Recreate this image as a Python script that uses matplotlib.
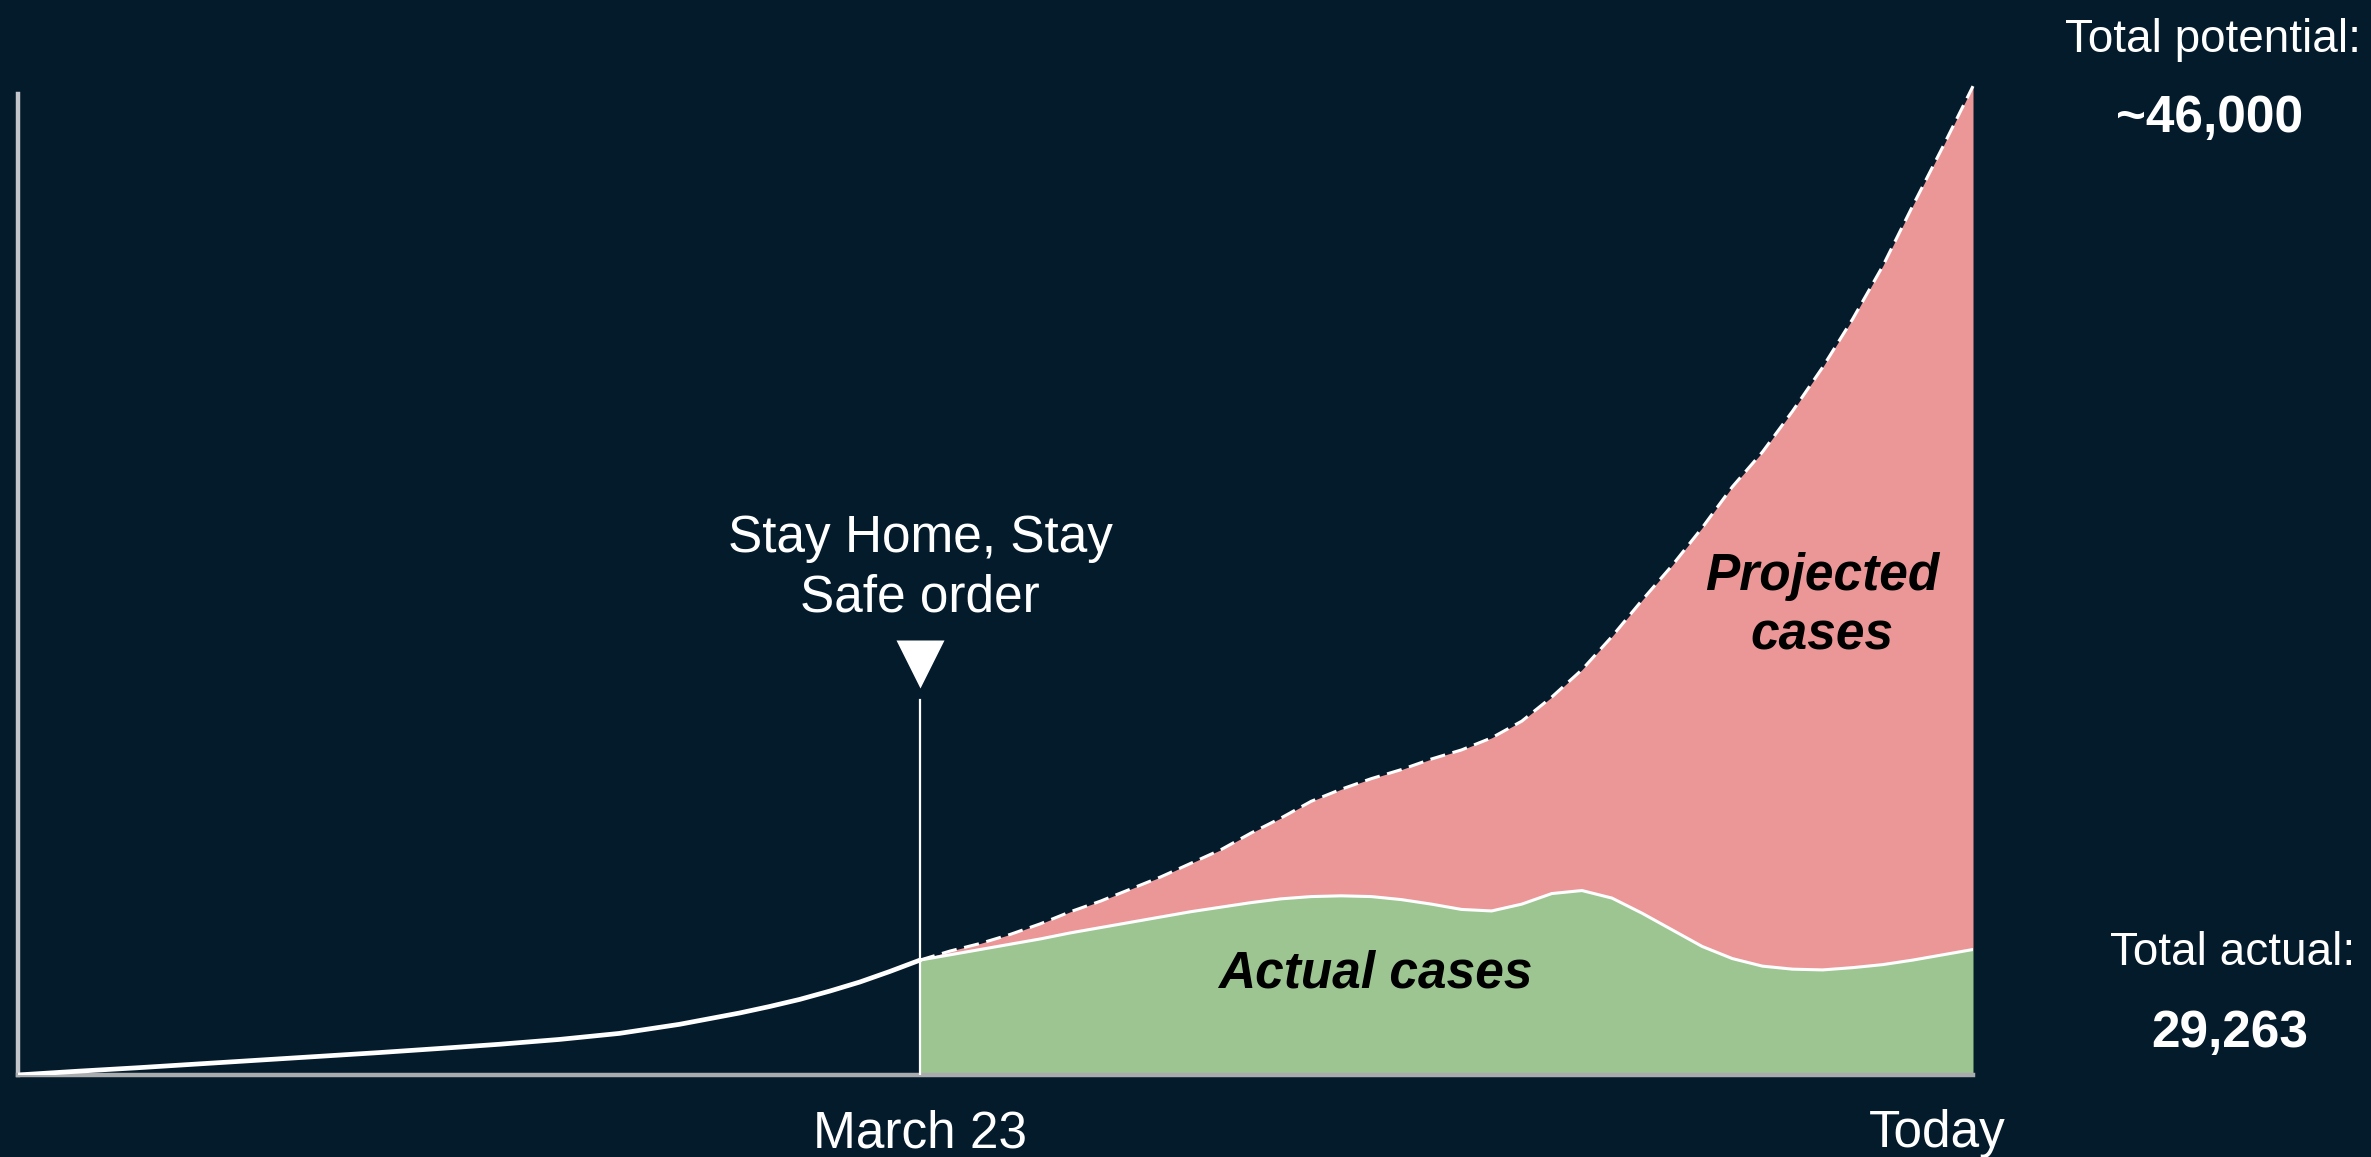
import numpy as np
import matplotlib
matplotlib.use('Agg')
import matplotlib.pyplot as plt
from matplotlib.transforms import blended_transform_factory

plt.rcParams['font.family'] = ['Liberation Sans', 'DejaVu Sans']

# days since start of the chart; March 23 = day 30, today = day 65
pre_days = [0, 2, 4, 6, 8, 10, 12, 14, 16, 18, 20, 22, 24, 25, 26, 27, 28, 29, 30]
pre_cases = [0, 2.5, 4.8, 7.3, 9.8, 12.3, 14.8, 17.5, 20.3, 23.5, 27.5, 33.5,
             41, 45.3, 50, 55.5, 61.5, 68.5, 76]

post_days = list(range(30, 66))
actual_cases = [76, 79.5, 83, 86.5, 90, 94, 97.5, 101, 104.5, 108, 111, 114,
                116.5, 118, 118.5, 118, 116, 113, 109.5, 108.5, 113, 120, 122,
                117, 107, 96, 85, 77, 72, 70, 69.5, 71, 73, 76, 79.5, 83]
projected_cases = [76, 82, 87, 93, 100, 108, 115, 123, 131, 140, 149, 160,
                   170, 181, 189, 196, 202, 209, 215, 223, 234, 250, 268, 290,
                   314, 337, 362, 389, 412, 439, 468, 500, 535, 575, 614, 654]

order_day = 30
today_day = 65
tick_days = [30, 65]
tick_labels = ['March 23', 'Today']

BG = '#041B2C'
PINK = '#EB9797'
GREEN = '#9CC592'
W, H = 2371, 1157

fig = plt.figure(figsize=(W / 100, H / 100), dpi=100)
fig.patch.set_facecolor(BG)

ax = fig.add_axes([17.5 / W, (H - 1075) / H, (1973 - 17.5) / W, (1075 - 93.7) / H])
ax.set_facecolor(BG)
ax.set_xlim(0, today_day)
ax.set_ylim(0, 649)

# areas
ax.fill_between(post_days, actual_cases, projected_cases, color=PINK, lw=0, clip_on=False)
ax.fill_between(post_days, 0, actual_cases, color=GREEN, lw=0, clip_on=False)

# lines
ax.plot(pre_days, pre_cases, color='white', lw=3.4, solid_capstyle='round',
        solid_joinstyle='round', zorder=4)
ax.plot(post_days, actual_cases, color='white', lw=2.2, solid_joinstyle='round', zorder=4)
ax.plot(post_days, projected_cases, color='white', lw=2.2, dashes=(5, 2.5),
        clip_on=False, zorder=4)

# stay home marker
ax.plot([order_day, order_day], [0, 248], color='white', lw=1.6, zorder=5)
ax.plot([order_day], [272], marker='v', ms=34, color='white', mec='none', zorder=5)

# spines
for s in ['top', 'right']:
    ax.spines[s].set_visible(False)
ax.spines['left'].set_color('#c3c7cb')
ax.spines['left'].set_linewidth(3.2)
ax.spines['bottom'].set_color('#a9abad')
ax.spines['bottom'].set_linewidth(3.2)
ax.set_yticks([])
ax.set_xticks([])

def fx(px):
    return px / W

def fy(py):
    return 1 - py / H

tr = blended_transform_factory(ax.transData, fig.transFigure)
for d, lab in zip(tick_days, tick_labels):
    x = d if d != today_day else 63.8
    ax.text(x, fy(1147), lab, transform=tr, ha='center', va='baseline',
            color='white', fontsize=37)

ax.text(order_day, fy(552), 'Stay Home, Stay', transform=tr, ha='center',
        va='baseline', color='white', fontsize=37)
ax.text(order_day, fy(612), 'Safe order', transform=tr, ha='center',
        va='baseline', color='white', fontsize=37)

lab_kw = dict(ha='center', va='baseline', color='black', fontsize=37,
              fontweight='bold', fontstyle='italic')
fig.text(fx(1822), fy(590), 'Projected', **lab_kw)
fig.text(fx(1822), fy(650), 'cases', **lab_kw)
fig.text(fx(1375), fy(987), 'Actual cases', **lab_kw)

fig.text(fx(2213), fy(52), 'Total potential:', ha='center', va='baseline',
         color='white', fontsize=33)
fig.text(fx(2210), fy(132), '~46,000', ha='center', va='baseline',
         color='white', fontsize=37, fontweight='bold')
fig.text(fx(2233), fy(965), 'Total actual:', ha='center', va='baseline',
         color='white', fontsize=33)
fig.text(fx(2230), fy(1047), '29,263', ha='center', va='baseline',
         color='white', fontsize=37, fontweight='bold')

fig.savefig('out.png', dpi=100, facecolor=BG)
